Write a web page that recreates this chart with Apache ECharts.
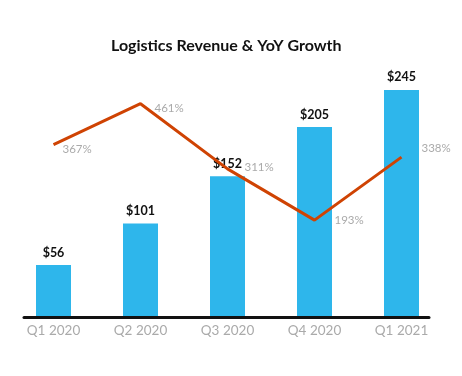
<!DOCTYPE html>
<html>
<head>
<meta charset="utf-8">
<script src="https://cdn.jsdelivr.net/npm/echarts@6/dist/echarts.min.js"></script>
<style>
  html, body { margin: 0; padding: 0; background: #fff; }
  #chart { width: 462px; height: 376px; }
</style>
</head>
<body>
<div id="chart"></div>
<script>
// 数据
const quarters = ['Q1 2020', 'Q2 2020', 'Q3 2020', 'Q4 2020', 'Q1 2021']
const revenue = [56, 101, 152, 205, 245]
const yoyGrowth = [367, 461, 311, 193, 338]

// 百分比标签的微调偏移
const growthLabelOffsets = [[-9, 5], [-4, 5], [-1, -2], [2, 0], [2, -9]]

const chart = echarts.init(document.getElementById('chart'))

const fontFamily = 'Lato, "Open Sans", sans-serif'

chart.setOption({
  animation: false,
  title: {
    text: 'Logistics Revenue & YoY Growth',
    left: 106,
    top: 33,
    textStyle: { fontFamily, fontSize: 16, fontWeight: 'bold', color: '#111' }
  },
  grid: [
    { left: 10, right: 17, top: 39, bottom: 59 },
    { left: 24, right: 33, top: 39, bottom: 59 }
  ],
  xAxis: [
    {
      type: 'category',
      data: quarters,
      gridIndex: 0,
      axisLine: { show: false },
      axisTick: { show: false },
      axisLabel: { color: '#aaa', fontFamily, fontSize: 13.5, margin: 7 }
    },
    {
      // 底部黑色轴线
      type: 'category',
      data: quarters,
      gridIndex: 1,
      z: 5,
      axisLine: { show: true, lineStyle: { color: '#111', width: 3 } },
      axisTick: { show: false },
      axisLabel: { show: false }
    }
  ],
  yAxis: [
    { type: 'value', gridIndex: 0, min: 0, max: 300, show: false },
    { type: 'value', gridIndex: 0, min: -30, max: 610, show: false },
    { type: 'value', gridIndex: 1, min: 0, max: 1, show: false }
  ],
  series: [
    {
      name: 'Revenue',
      type: 'bar',
      xAxisIndex: 0,
      yAxisIndex: 0,
      barWidth: 35,
      data: revenue,
      itemStyle: { color: '#2eb6eb' },
      label: {
        show: true,
        position: 'top',
        distance: 6,
        formatter: p => '$' + p.value,
        color: '#111',
        fontFamily,
        fontSize: 12.5,
        fontWeight: 'bold'
      }
    },
    {
      name: 'YoY Growth',
      type: 'line',
      xAxisIndex: 0,
      yAxisIndex: 1,
      z: 4,
      symbol: 'circle',
      symbolSize: 0,
      showSymbol: true,
      data: yoyGrowth.map((v, i) => ({ value: v, label: { offset: growthLabelOffsets[i] } })),
      itemStyle: { color: '#cf4303' },
      lineStyle: { color: '#cf4303', width: 3 },
      label: {
        show: true,
        position: 'right',
        distance: 18,
        formatter: p => p.value + '%',
        color: '#aaa',
        fontFamily,
        fontSize: 11.5
      }
    }
  ]
})
</script>
</body>
</html>
